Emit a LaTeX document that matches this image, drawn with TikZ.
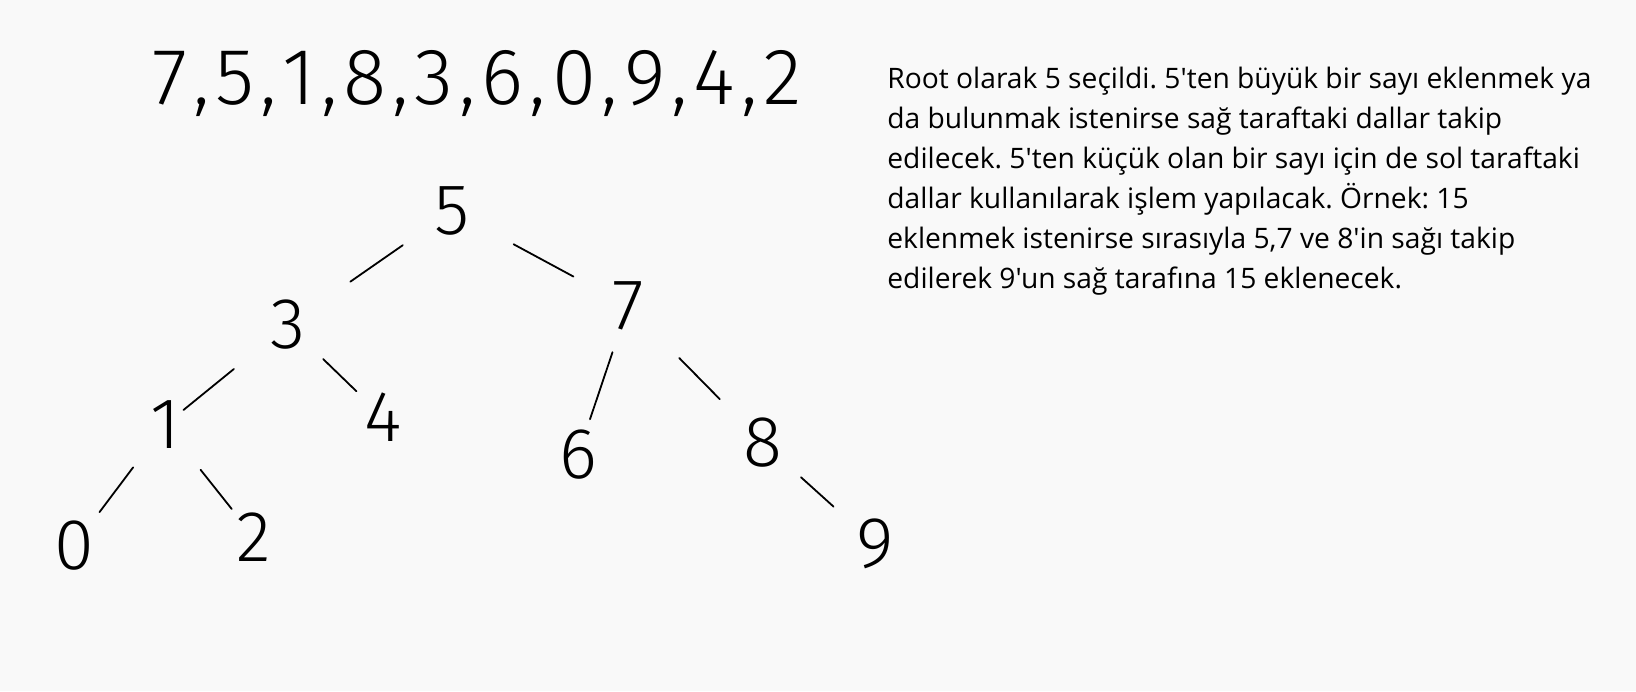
\documentclass[tikz,border=0pt]{standalone}
\usepackage{fontspec}
\setmainfont{Open Sans}[Ligatures=TeXOff]
\newfontfamily\handfont{Fira Sans Light}
\usetikzlibrary{calc}
\definecolor{paper}{HTML}{F9F9F9}

\begin{document}
\begin{tikzpicture}[x=0.5pt, y=-0.5pt,
        digitNode/.style={inner sep=0pt, font=\handfont\fontsize{36}{36}\selectfont},
        branchLine/.style={draw=black, line width=0.9pt, line cap=round},
        noteText/.style={anchor=north west, inner sep=0pt, align=left, font=\fontsize{14.1}{20}\selectfont\frenchspacing}
    ]
        % Background
        \fill[paper] (0,0) rectangle (1636,691);
        \useasboundingbox (0,0) rectangle (1636,691);

        % Insertion order
        \node[digitNode, anchor=base, font=\handfont\fontsize{40}{40}\selectfont] (order) at (477,104) {\spaceskip=2.9pt 7 , 5 , 1 , 8 , 3 , 6 , 0 , 9 , 4 , 2};

        % Tree
        \node[digitNode] (n5) at (452,211) {5};
        \node[digitNode] (n3) at (288,325) {3};
        \node[digitNode] (n7) at (628,306) {7};
        \node[digitNode] (n1) at (165,425) {1};
        \node[digitNode] (n4) at (383,417) {4};
        \node[digitNode] (n6) at (578,455) {6};
        \node[digitNode] (n8) at (763,443) {8};
        \node[digitNode] (n0) at (74,546) {0};
        \node[digitNode] (n2) at (254,537) {2};
        \node[digitNode] (n9) at (875,544) {9};

        % Branches
        \draw[branchLine] ($(n5)!0.30!(n3)$) -- ($(n5)!0.62!(n3)$);
        \draw[branchLine] ($(n5)!0.35!(n7)$) -- ($(n5)!0.69!(n7)$);
        \draw[branchLine] ($(n3)!0.44!(n1)$) -- ($(n3)!0.85!(n1)$);
        \draw[branchLine] ($(n3)!0.37!(n4)$) -- ($(n3)!0.72!(n4)$);
        \draw[branchLine] ($(n7)!0.31!(n6)$) -- ($(n7)!0.76!(n6)$);
        \draw[branchLine] ($(n7)!0.38!(n8)$) -- ($(n7)!0.68!(n8)$);
        \draw[branchLine] ($(n1)!0.35!(n0)$) -- ($(n1)!0.72!(n0)$);
        \draw[branchLine] ($(n1)!0.40!(n2)$) -- ($(n1)!0.75!(n2)$);
        \draw[branchLine] ($(n8)!0.34!(n9)$) -- ($(n8)!0.63!(n9)$);

        % Explanation
        \node[noteText] (note) at (887,67) {
            Root olarak 5 seçildi. 5'ten büyük bir sayı eklenmek ya\\
            da bulunmak istenirse sağ taraftaki dallar takip\\
            edilecek. 5'ten küçük olan bir sayı için de sol taraftaki\\
            dallar kullanılarak işlem yapılacak. Örnek: 15\\
            eklenmek istenirse sırasıyla 5,7 ve 8'in sağı takip\\
            edilerek 9'un sağ tarafına 15 eklenecek.
        };
    \end{tikzpicture}
\end{document}
